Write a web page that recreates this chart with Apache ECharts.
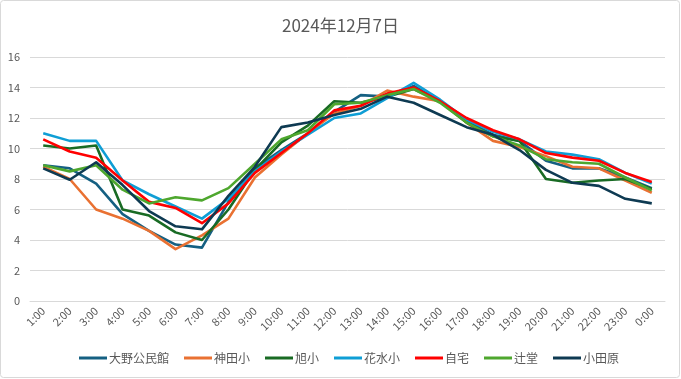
<!DOCTYPE html>
<html><head><meta charset="utf-8">
<script src="https://cdn.jsdelivr.net/npm/echarts@6/dist/echarts.min.js"></script>
<style>html,body{margin:0;padding:0;background:#fff}#c{width:681px;height:379px}</style>
</head><body><div id="c"></div>
<script>
const title = '2024年12月7日';
const hours = ['1:00','2:00','3:00','4:00','5:00','6:00','7:00','8:00','9:00','10:00','11:00','12:00','13:00','14:00','15:00','16:00','17:00','18:00','19:00','20:00','21:00','22:00','23:00','0:00'];
const seriesNames = ['大野公民館','神田小','旭小','花水小','自宅','辻堂','小田原'];
const oono    = [8.9,8.7,7.7,5.7,4.6,3.7,3.5,6.5,8.7,9.9,11.0,12.4,13.5,13.4,14.1,13.1,11.8,10.9,10.5,9.2,8.7,8.7,8.1,7.4];
const kanda   = [8.8,8.0,6.0,5.4,4.6,3.4,4.3,5.4,8.1,9.6,11.0,12.3,12.8,13.8,13.4,13.1,11.7,10.5,10.1,9.5,8.8,8.7,7.9,7.1];
const asahi   = [10.2,10.0,10.2,6.0,5.6,4.5,4.0,6.0,8.6,10.4,11.5,13.1,13.0,13.4,13.9,13.1,11.7,10.8,10.5,8.0,7.75,7.9,8.0,7.35];
const hanamizu= [11.0,10.5,10.5,7.9,7.0,6.2,5.4,6.7,8.5,9.8,10.9,12.0,12.3,13.3,14.3,13.2,11.9,11.1,10.6,9.8,9.6,9.3,8.4,7.7];
const jitaku  = [10.6,9.8,9.4,7.9,6.5,6.1,5.1,6.4,8.4,9.7,11.0,12.5,12.8,13.6,14.0,13.1,12.0,11.2,10.6,9.7,9.4,9.2,8.4,7.8];
const tsujido = [8.9,8.5,8.9,7.3,6.4,6.8,6.6,7.4,9.0,10.6,11.2,12.9,13.0,13.5,13.9,13.0,11.7,10.8,10.2,9.3,9.1,9.0,8.1,7.25];
const odawara = [8.7,7.95,9.1,7.6,5.9,4.9,4.7,6.9,8.8,11.4,11.7,12.2,12.6,13.4,13.0,12.2,11.4,10.9,9.9,8.6,7.75,7.55,6.7,6.4];
const yTicks = [0,2,4,6,8,10,12,14,16];

const dataSets = [oono,kanda,asahi,hanamizu,jitaku,tsujido,odawara];
const colors = ['#156082','#E97132','#196B24','#0F9ED5','#FF0000','#4EA72E','#0E3A52'];
const font = '"Noto Sans CJK JP","Noto Sans",sans-serif';

const chart = echarts.init(document.getElementById('c'), null, {renderer:'canvas'});
chart.setOption({
  animation:false,
  backgroundColor:'#fff',
  graphic:[{type:'rect',shape:{x:0.5,y:0.5,width:679,height:377,r:3},style:{fill:'none',stroke:'#d9d9d9',lineWidth:1},silent:true}],
  title:{text:title,left:'center',top:12,textStyle:{fontFamily:font,fontSize:17,fontWeight:'normal',color:'#595959'}},
  grid:{left:30,right:16,top:57,bottom:78,containLabel:false},
  xAxis:{type:'category',data:hours,boundaryGap:true,
    axisLine:{lineStyle:{color:'#d9d9d9'}},axisTick:{show:false},
    axisLabel:{rotate:45,interval:0,fontFamily:font,fontSize:11,color:'#595959',margin:8}},
  yAxis:{type:'value',min:yTicks[0],max:yTicks[yTicks.length-1],interval:2,
    axisLine:{show:false},axisTick:{show:false},
    splitLine:{lineStyle:{color:'#d9d9d9'}},
    axisLabel:{fontFamily:font,fontSize:11,color:'#595959',margin:10}},
  legend:{bottom:10,left:74,itemWidth:28,itemHeight:3,itemGap:15,icon:'rect',
    textStyle:{fontFamily:font,fontSize:12,color:'#595959',padding:[0,0,0,-3]},data:seriesNames},
  series:seriesNames.map((n,i)=>({name:n,type:'line',data:dataSets[i],symbol:'none',
    lineStyle:{width:2.6,color:colors[i],join:'round'},itemStyle:{color:colors[i]}}))
});
</script></body></html>
